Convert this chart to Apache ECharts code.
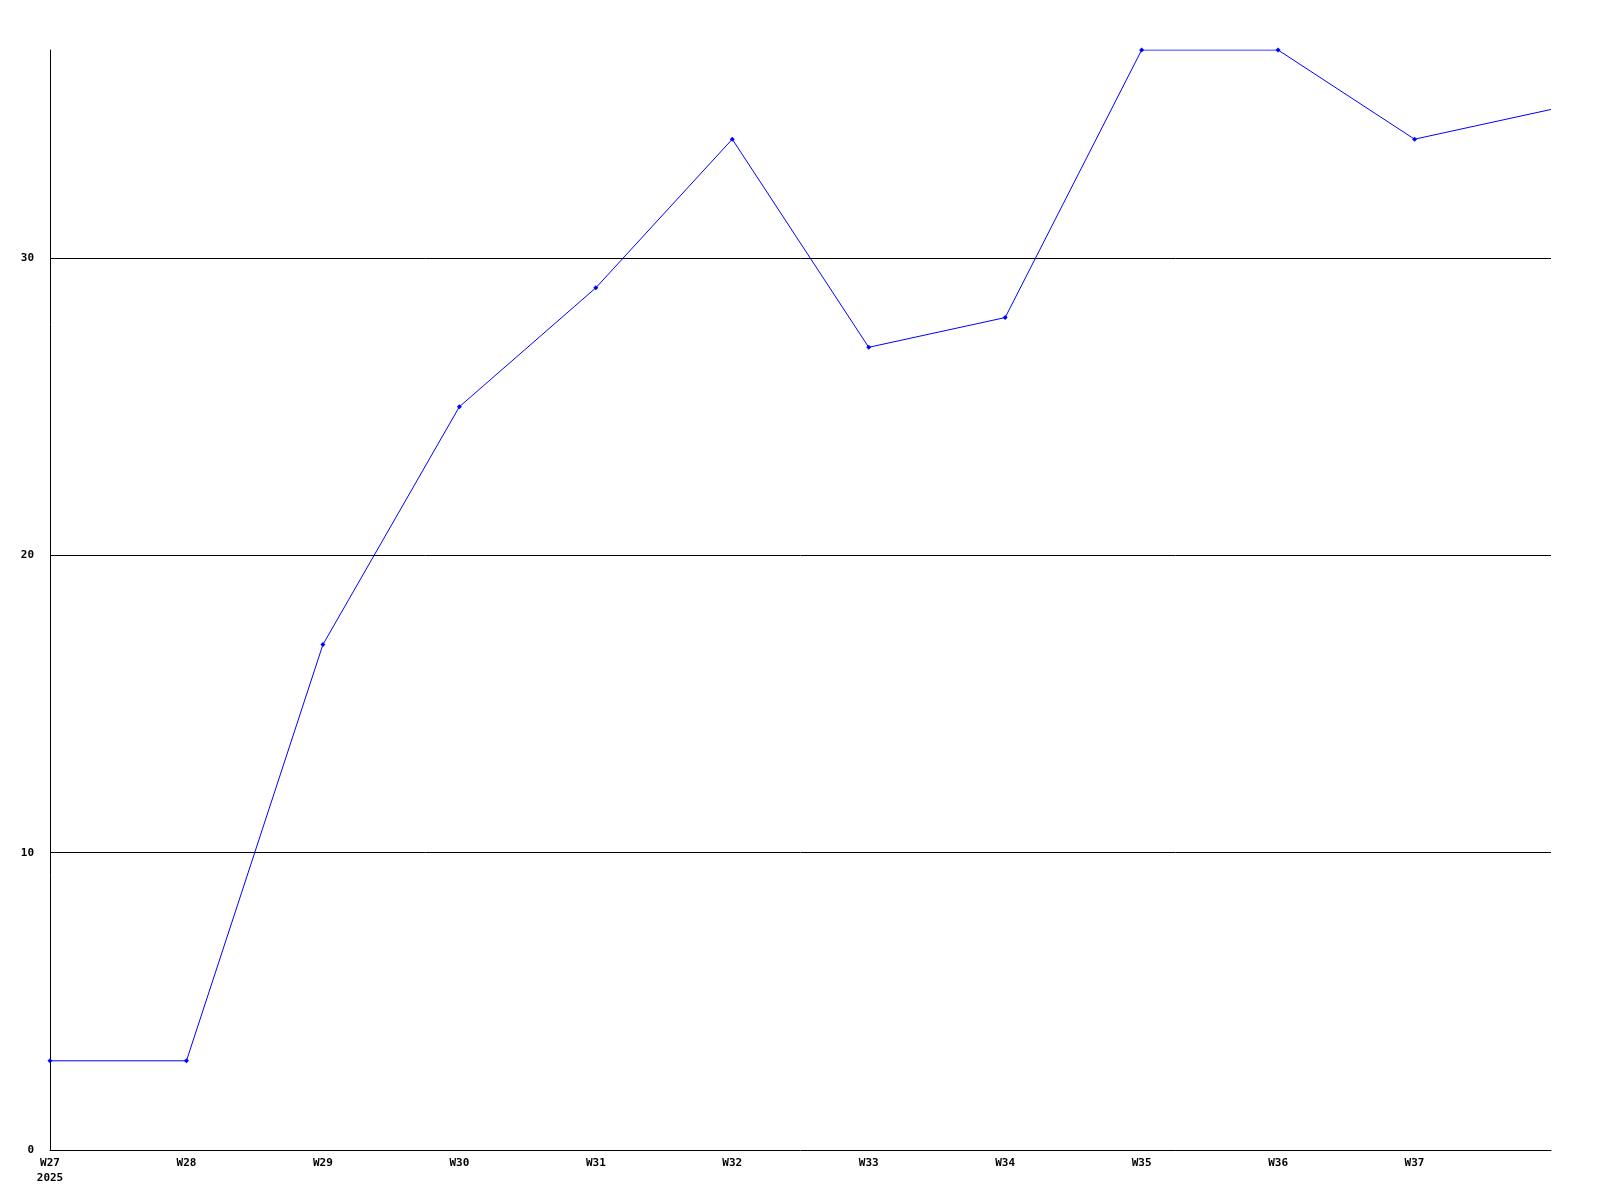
<!DOCTYPE html>
<html>
<head>
<meta charset="utf-8">
<script src="https://cdn.jsdelivr.net/npm/echarts@6/dist/echarts.min.js"></script>
<style>html,body{margin:0;padding:0;background:#fff}#c{width:1600px;height:1200px}</style>
</head>
<body>
<div id="c"></div>
<script>
const categories = ['W27','W28','W29','W30','W31','W32','W33','W34','W35','W36','W37','W38'];
const xTickLabels = ['W27\n2025','W28','W29','W30','W31','W32','W33','W34','W35','W36','W37',''];
const values = [3, 3, 17, 25, 29, 34, 27, 28, 37, 37, 34, 35];
const yMin = 0, yMax = 37, yInterval = 10;

const seriesData = values.map((v, i) => i === values.length - 1 ? {value: v, symbol: 'none'} : v);

const chart = echarts.init(document.getElementById('c'), null, {renderer: 'canvas'});
const font = {fontFamily: 'DejaVu Sans Mono', fontWeight: 'bold', fontSize: 11, color: '#000'};
chart.setOption({
  animation: false,
  backgroundColor: '#fff',
  grid: {left: 50, right: 49, top: 50, bottom: 50, containLabel: false},
  xAxis: {
    type: 'category',
    data: categories,
    boundaryGap: false,
    axisLine: {show: true, lineStyle: {color: '#000', width: 1}},
    axisTick: {show: false},
    splitLine: {show: false},
    axisLabel: Object.assign({}, font, {
      margin: 6,
      interval: 0,
      lineHeight: 15,
      formatter: (v, i) => xTickLabels[i]
    })
  },
  yAxis: {
    type: 'value',
    min: yMin, max: yMax, interval: yInterval,
    axisLine: {show: true, lineStyle: {color: '#000', width: 1}},
    axisTick: {show: false},
    splitLine: {show: true, showMinLine: false, showMaxLine: false, lineStyle: {color: '#000', width: 1}},
    axisLabel: Object.assign({}, font, {margin: 16, showMaxLabel: false})
  },
  series: [{
    type: 'line',
    data: seriesData,
    symbol: 'diamond',
    symbolSize: 5,
    showSymbol: true,
    lineStyle: {color: '#0000ff', width: 1},
    itemStyle: {color: '#0000ff'}
  }]
});
</script>
</body>
</html>
